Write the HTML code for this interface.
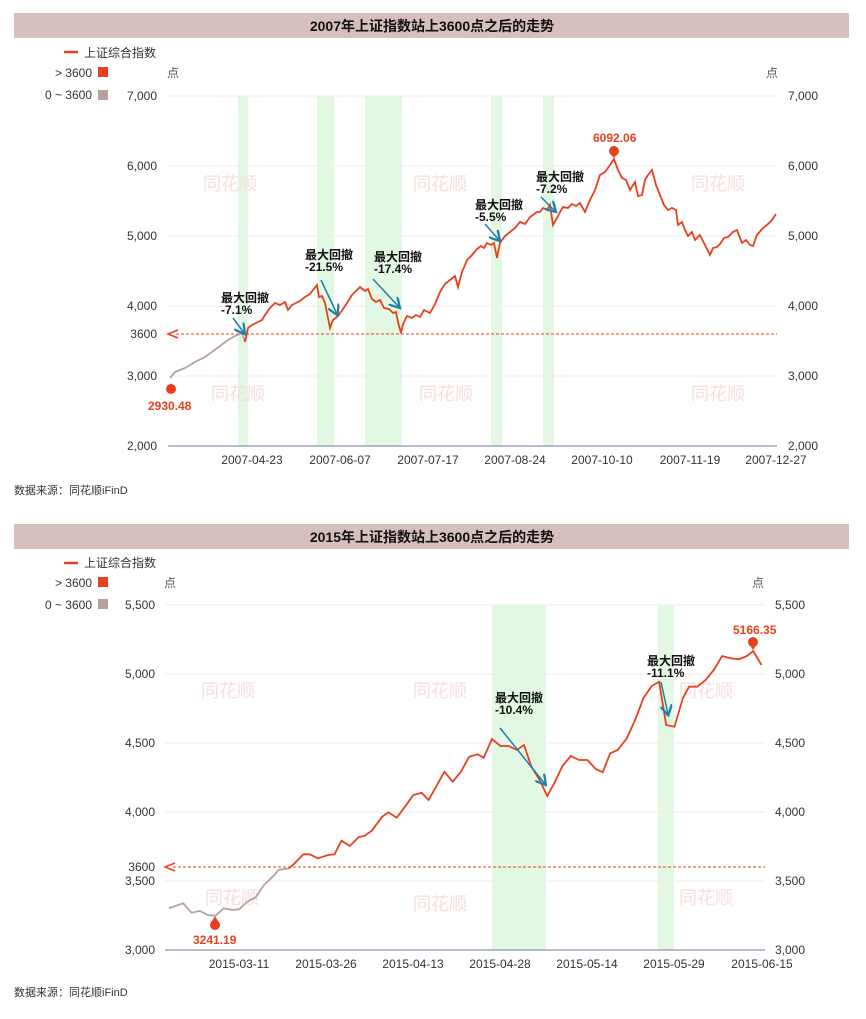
<!DOCTYPE html>
<html><head><meta charset="utf-8"><style>
body{margin:0;background:#fff;font-family:"Liberation Sans","Noto Sans CJK SC",sans-serif}
</style></head><body>
<svg width="866" height="1014" viewBox="0 0 866 1014" xmlns="http://www.w3.org/2000/svg" font-family="Liberation Sans, Noto Sans CJK SC, sans-serif">
<defs><marker id="ah" markerWidth="8" markerHeight="8" refX="6" refY="4" orient="auto"><path d="M0,0 L7,4 L0,8" fill="none" stroke="#1f7fa6" stroke-width="1.5"/></marker></defs>
<!-- TOP -->
<rect x="14" y="13" width="835" height="25" fill="#d5c0bd"/>
<text x="432" y="31" font-size="14" font-weight="bold" text-anchor="middle" fill="#111">2007年上证指数站上3600点之后的走势</text>
<line x1="64" y1="52" x2="78" y2="52" stroke="#e8401e" stroke-width="2.5"/>
<text x="84" y="57" font-size="12" fill="#333">上证综合指数</text>
<text x="92" y="77" font-size="12" fill="#333" text-anchor="end">&gt; 3600</text><rect x="98" y="67" width="10" height="10" fill="#e8401e"/>
<text x="92" y="99" font-size="12" fill="#333" text-anchor="end">0 ~ 3600</text><rect x="98" y="90" width="10" height="10" fill="#b8a09e"/>
<text x="167" y="77" font-size="12" fill="#555">点</text><text x="766" y="77" font-size="12" fill="#555">点</text>
<g fill="#e2f8e2"><rect x="238" y="96" width="10" height="350"/><rect x="317" y="96" width="17" height="350"/><rect x="365" y="96" width="37" height="350"/><rect x="491" y="96" width="11" height="350"/><rect x="543" y="96" width="11" height="350"/></g>
<g stroke="#eee"><line x1="168" y1="96" x2="777" y2="96"/><line x1="168" y1="166" x2="777" y2="166"/><line x1="168" y1="236" x2="777" y2="236"/><line x1="168" y1="306" x2="777" y2="306"/><line x1="168" y1="376" x2="777" y2="376"/></g>
<line x1="168" y1="446" x2="777" y2="446" stroke="#6f7aa0"/>
<g font-size="12" fill="#333" text-anchor="end"><text x="157" y="100">7,000</text><text x="157" y="170">6,000</text><text x="157" y="240">5,000</text><text x="157" y="310">4,000</text><text x="157" y="338">3600</text><text x="157" y="380">3,000</text><text x="157" y="450">2,000</text></g>
<g font-size="12" fill="#333"><text x="788" y="100">7,000</text><text x="788" y="170">6,000</text><text x="788" y="240">5,000</text><text x="788" y="310">4,000</text><text x="788" y="380">3,000</text><text x="788" y="450">2,000</text></g>
<g font-size="12" fill="#333" text-anchor="middle"><text x="252" y="464">2007-04-23</text><text x="340" y="464">2007-06-07</text><text x="428" y="464">2007-07-17</text><text x="515" y="464">2007-08-24</text><text x="602" y="464">2007-10-10</text><text x="690" y="464">2007-11-19</text><text x="776" y="464">2007-12-27</text></g>
<g font-size="18" fill="#f6dede" text-anchor="middle"><text x="230" y="190">同花顺</text><text x="440" y="190">同花顺</text><text x="718" y="190">同花顺</text><text x="238" y="400">同花顺</text><text x="446" y="400">同花顺</text><text x="718" y="400">同花顺</text></g>
<line x1="176" y1="334" x2="777" y2="334" stroke="#e8401e" stroke-dasharray="3,2"/>
<path d="M178,330 L168,334 L178,338" fill="none" stroke="#e8401e" stroke-width="1.5"/>
<polyline fill="none" stroke="#b8a09e" stroke-width="1.8" points="170,378 175,372 185,368 195,362 205,357 212,352 220,346 228,340 235,336 242,333 245,342"/>
<polyline fill="none" stroke="#e8401e" stroke-width="1.8" points="245,342 248,328 252,325 258,322 262,320 265,315 270,308 275,303 280,305 285,302 288,310 292,305 296,303 300,301 305,297 310,294 313,290 317,285 319,297 322,296 325,303 330,328 333,320 338,316 343,309 347,303 352,295 357,290 360,287 365,291 368,289 372,299 376,302 380,300 384,308 389,309 393,313 396,312 398,322 401,333 403,324 407,316 412,318 416,315 420,317 424,310 430,313 435,304 440,292 445,284 450,280 455,276 458,287 462,272 467,260 472,255 477,249 481,246 484,248 487,243 491,245 494,243 497,258 500,243 505,236 510,232 515,228 520,222 525,224 530,217 533,215 537,212 540,212 543,208 547,210 550,205 553,225 557,218 560,212 563,207 568,208 572,204 576,206 580,203 585,212 590,200 595,190 600,175 605,172 610,165 614,159 618,170 622,178 626,180 630,190 635,182 638,196 642,195 645,180 648,175 652,170 656,185 660,195 664,205 668,210 672,208 676,210 678,225 682,222 685,230 688,236 692,232 695,240 700,235 705,245 710,255 713,248 717,247 720,244 724,238 728,237 733,232 737,230 742,243 746,240 750,245 753,246 757,235 762,229 768,224 772,220 776,214"/>
<g fill="none" stroke="#1f7fa6" stroke-width="1.5" marker-end="url(#ah)"><line x1="233" y1="318" x2="244" y2="333"/><line x1="321" y1="280" x2="337" y2="314"/><line x1="373" y1="279" x2="399" y2="307"/><line x1="485" y1="224" x2="499" y2="240"/><line x1="541" y1="197" x2="555" y2="211"/></g>
<g font-size="12" font-weight="bold" fill="#111"><text x="221" y="302">最大回撤</text><text x="221" y="314">-7.1%</text><text x="305" y="259">最大回撤</text><text x="305" y="271">-21.5%</text><text x="374" y="261">最大回撤</text><text x="374" y="273">-17.4%</text><text x="475" y="209">最大回撤</text><text x="475" y="221">-5.5%</text><text x="536" y="181">最大回撤</text><text x="536" y="193">-7.2%</text></g>
<circle cx="171" cy="389" r="5" fill="#e8401e"/><path d="M167,391 L171,383 L175,391Z" fill="#e8401e"/>
<text x="148" y="410" font-size="12" font-weight="bold" fill="#e8401e">2930.48</text>
<circle cx="614" cy="151" r="5" fill="#e8401e"/><path d="M610,153 L614,158 L618,153Z" fill="#e8401e"/>
<text x="593" y="142" font-size="12" font-weight="bold" fill="#e8401e">6092.06</text>
<text x="14" y="494" font-size="11" fill="#333">数据来源：同花顺iFinD</text>
<!-- BOTTOM -->
<rect x="14" y="524" width="835" height="25" fill="#d5c0bd"/>
<text x="432" y="542" font-size="14" font-weight="bold" text-anchor="middle" fill="#111">2015年上证指数站上3600点之后的走势</text>
<line x1="64" y1="563" x2="78" y2="563" stroke="#e8401e" stroke-width="2.5"/>
<text x="84" y="567" font-size="12" fill="#333">上证综合指数</text>
<text x="92" y="587" font-size="12" fill="#333" text-anchor="end">&gt; 3600</text><rect x="98" y="577" width="10" height="10" fill="#e8401e"/>
<text x="92" y="609" font-size="12" fill="#333" text-anchor="end">0 ~ 3600</text><rect x="98" y="599" width="10" height="10" fill="#b8a09e"/>
<text x="164" y="587" font-size="12" fill="#555">点</text><text x="752" y="587" font-size="12" fill="#555">点</text>
<g fill="#e2f8e2"><rect x="492" y="605" width="54" height="345"/><rect x="658" y="605" width="16" height="345"/></g>
<g stroke="#eee"><line x1="165" y1="605" x2="765" y2="605"/><line x1="165" y1="674" x2="765" y2="674"/><line x1="165" y1="743" x2="765" y2="743"/><line x1="165" y1="812" x2="765" y2="812"/><line x1="165" y1="881" x2="765" y2="881"/></g>
<line x1="165" y1="950" x2="765" y2="950" stroke="#6f7aa0"/>
<g font-size="12" fill="#333" text-anchor="end"><text x="155" y="609">5,500</text><text x="155" y="678">5,000</text><text x="155" y="747">4,500</text><text x="155" y="816">4,000</text><text x="155" y="871">3600</text><text x="155" y="885">3,500</text><text x="155" y="954">3,000</text></g>
<g font-size="12" fill="#333"><text x="775" y="609">5,500</text><text x="775" y="678">5,000</text><text x="775" y="747">4,500</text><text x="775" y="816">4,000</text><text x="775" y="885">3,500</text><text x="775" y="954">3,000</text></g>
<g font-size="12" fill="#333" text-anchor="middle"><text x="239" y="968">2015-03-11</text><text x="326" y="968">2015-03-26</text><text x="413" y="968">2015-04-13</text><text x="500" y="968">2015-04-28</text><text x="587" y="968">2015-05-14</text><text x="674" y="968">2015-05-29</text><text x="762" y="968">2015-06-15</text></g>
<g font-size="18" fill="#f6dede" text-anchor="middle"><text x="228" y="697">同花顺</text><text x="440" y="697">同花顺</text><text x="706" y="697">同花顺</text><text x="232" y="904">同花顺</text><text x="440" y="910">同花顺</text><text x="706" y="904">同花顺</text></g>
<line x1="173" y1="867" x2="765" y2="867" stroke="#e8401e" stroke-dasharray="3,2"/>
<path d="M175,863 L165,867 L175,871" fill="none" stroke="#e8401e" stroke-width="1.5"/>
<polyline fill="none" stroke="#b8a09e" stroke-width="1.8" points="168.7,908.3 183.2,903.3 191.5,912.7 199.8,911 208,915 215.5,915.7 223.8,908.3 232.9,910 239.1,909.3 247.4,901.7 255.7,897.3 264,885 274.4,875 278.5,870 288.9,868.3"/>
<polyline fill="none" stroke="#e8401e" stroke-width="1.8" points="288.9,868.3 293,865 303.4,854.3 309.6,854.3 317.9,858.3 328.3,855 334.5,854.3 341.5,840.7 349.8,846 358.5,837.3 364.8,835.7 371.8,830.7 382.2,816.7 388.4,812.3 396.7,817.7 405,806.7 413.3,795 421.6,792.7 428.6,800 436.1,786.7 444.4,771.7 452.7,781.7 460.9,771.7 469.2,756.7 477.5,754.3 483.7,757.7 492,739 500.3,746 508.6,746 516.9,750 524,745 531.4,766.7 539.7,780 547.2,796 554.2,783.3 562.5,766 570.8,756 579.1,760 587.4,760 595.7,769 602.7,772.3 610.2,753.3 617.7,750 626.8,738.3 635.1,720 643.4,698.3 651.7,686 659.1,681.7 666.2,725 674.5,726.7 682.8,698.3 689,686.7 697.3,686.7 705.6,680 713.8,670 722.1,656 730.4,658.3 738.7,659.3 747,656 753.2,651 761.5,665"/>
<g fill="none" stroke="#1f7fa6" stroke-width="1.5" marker-end="url(#ah)"><line x1="500" y1="728" x2="545" y2="784"/><line x1="661" y1="682" x2="668" y2="714"/></g>
<g font-size="12" font-weight="bold" fill="#111"><text x="495" y="702">最大回撤</text><text x="495" y="714">-10.4%</text><text x="647" y="665">最大回撤</text><text x="647" y="677">-11.1%</text></g>
<circle cx="215" cy="925" r="5" fill="#e8401e"/><path d="M211,923 L215,916 L219,923Z" fill="#e8401e"/>
<text x="193" y="944" font-size="12" font-weight="bold" fill="#e8401e">3241.19</text>
<circle cx="753" cy="642" r="5" fill="#e8401e"/><path d="M749,644 L753,650 L757,644Z" fill="#e8401e"/>
<text x="733" y="634" font-size="12" font-weight="bold" fill="#e8401e">5166.35</text>
<text x="14" y="996" font-size="11" fill="#333">数据来源：同花顺iFinD</text>
</svg>
</body></html>
